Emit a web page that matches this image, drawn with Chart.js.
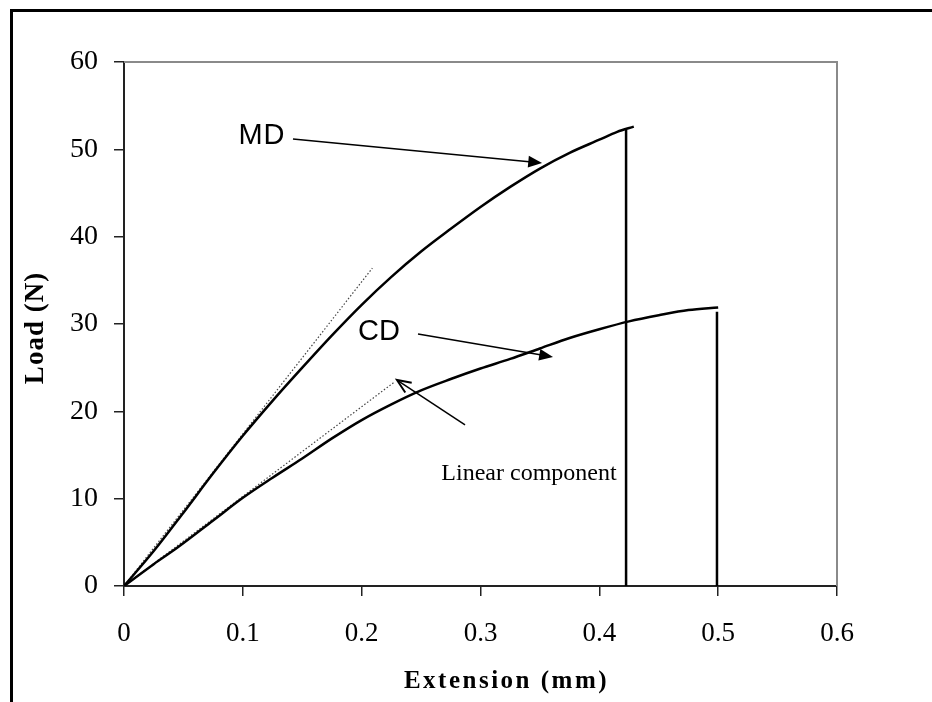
<!DOCTYPE html>
<html>
<head>
<meta charset="utf-8">
<script src="https://cdn.jsdelivr.net/npm/chart.js@4.4.1/dist/chart.umd.min.js"></script>
<style>
    html, body { margin: 0; padding: 0; background: #fff; overflow: hidden; }
    #frame { position: absolute; left: 10px; top: 9px; width: 1000px; height: 800px;
             border-left: 3px solid #000; border-top: 3px solid #000; }
    #wrap { position: absolute; left: 0; top: 0; width: 932px; height: 702px; }
</style>
</head>
<body>
<div id="frame"></div>
<div id="wrap"><canvas id="myChart" width="932" height="702"></canvas></div>
<script>
// curvas carga - extension (MD y CD)
const mdExt  = [0, 0.025, 0.05, 0.075, 0.1, 0.125, 0.15, 0.175, 0.2, 0.225, 0.25, 0.275, 0.3, 0.325, 0.35, 0.375, 0.4, 0.415, 0.429];
const mdLoad = [0, 4.0, 8.4, 12.9, 17.2, 21.2, 25.0, 28.7, 32.2, 35.4, 38.3, 40.9, 43.4, 45.7, 47.8, 49.6, 51.1, 52.0, 52.6];

const cdExt  = [0, 0.025, 0.045, 0.075, 0.1, 0.125, 0.15, 0.175, 0.2, 0.225, 0.25, 0.275, 0.3, 0.325, 0.35, 0.375, 0.4, 0.425, 0.45, 0.475, 0.5];
const cdLoad = [0, 2.5, 4.4, 7.5, 10.1, 12.4, 14.6, 16.9, 19.0, 20.8, 22.4, 23.7, 24.9, 26.0, 27.2, 28.4, 29.4, 30.3, 31.0, 31.6, 31.9];

// caida final (rotura)
const mdDropExt  = [0.4225, 0.4225];
const mdDropLoad = [52.2, 0];
const cdDropExt  = [0.499, 0.499];
const cdDropLoad = [31.4, 0];

// componente lineal (punteado)
const mdLinExt  = [0, 0.209];
const mdLinLoad = [0, 36.4];
const cdLinExt  = [0, 0.228];
const cdLinLoad = [0, 23.4];

const xTickLabels = ['0', '0.1', '0.2', '0.3', '0.4', '0.5', '0.6'];
const yTickLabels = ['0', '10', '20', '30', '40', '50', '60'];

const toPoints = (xs, ys) => xs.map((x, i) => ({ x: x, y: ys[i] }));

// anotaciones en coordenadas de datos
const notes = {
    texts: [
        { text: 'MD', x: 0.1161, y: 51.5, font: '29px "Liberation Sans"', spacing: '1px' },
        { text: 'CD', x: 0.2146, y: 29.1, font: '29px "Liberation Sans"', spacing: '0px' },
        { text: 'Linear component', x: 0.3408, y: 12.14, font: '24px "Liberation Serif"', spacing: '0px', baseline: 'alphabetic' }
    ],
    arrows: [
        { x1: 0.1422, y1: 51.18, x2: 0.3518, y2: 48.44, filled: true },
        { x1: 0.2474, y1: 28.86, x2: 0.3610, y2: 26.22, filled: true },
        { x1: 0.2870, y1: 18.44, x2: 0.2297, y2: 23.59, filled: false }
    ]
};

const annotate = {
    id: 'annotate',
    afterDatasetsDraw(chart) {
        const ctx = chart.ctx;
        const xs = chart.scales.x, ys = chart.scales.y;
        const a = chart.chartArea;
        ctx.save();
        // borde gris superior y derecho del area
        ctx.strokeStyle = '#8a8a8a';
        ctx.lineWidth = 2;
        ctx.beginPath();
        ctx.moveTo(a.left, a.top);
        ctx.lineTo(a.right, a.top);
        ctx.lineTo(a.right, a.bottom);
        ctx.stroke();

        ctx.fillStyle = '#000';
        notes.texts.forEach(t => {
            ctx.font = t.font;
            ctx.letterSpacing = t.spacing;
            ctx.textAlign = 'center';
            ctx.textBaseline = t.baseline || 'middle';
            ctx.fillText(t.text, xs.getPixelForValue(t.x), ys.getPixelForValue(t.y));
        });
        ctx.letterSpacing = '0px';

        ctx.strokeStyle = '#000';
        notes.arrows.forEach(ar => {
            const x1 = xs.getPixelForValue(ar.x1), y1 = ys.getPixelForValue(ar.y1);
            const x2 = xs.getPixelForValue(ar.x2), y2 = ys.getPixelForValue(ar.y2);
            const ang = Math.atan2(y2 - y1, x2 - x1);
            const len = 15, half = 0.4;
            ctx.lineWidth = 1.5;
            ctx.beginPath();
            ctx.moveTo(x1, y1);
            ctx.lineTo(x2 - Math.cos(ang) * (ar.filled ? len - 2 : 1), y2 - Math.sin(ang) * (ar.filled ? len - 2 : 1));
            ctx.stroke();
            const ax = x2 - Math.cos(ang - half) * len, ay = y2 - Math.sin(ang - half) * len;
            const bx = x2 - Math.cos(ang + half) * len, by = y2 - Math.sin(ang + half) * len;
            ctx.beginPath();
            if (ar.filled) {
                ctx.moveTo(x2, y2);
                ctx.lineTo(ax, ay);
                ctx.lineTo(bx, by);
                ctx.closePath();
                ctx.fill();
            } else {
                ctx.lineWidth = 2;
                ctx.moveTo(ax, ay);
                ctx.lineTo(x2, y2);
                ctx.lineTo(bx, by);
                ctx.stroke();
            }
        });

        // titulos de ejes
        ctx.font = 'bold 27px "Liberation Serif"';
        ctx.letterSpacing = '1px';
        ctx.textAlign = 'center';
        ctx.textBaseline = 'middle';
        ctx.save();
        ctx.translate(36, (a.top + a.bottom) / 2 + 4);
        ctx.rotate(-Math.PI / 2);
        ctx.fillText('Load (N)', 0, 0);
        ctx.restore();
        ctx.font = 'bold 25px "Liberation Serif"';
        ctx.letterSpacing = '2.5px';
        ctx.textBaseline = 'alphabetic';
        ctx.fillText('Extension (mm)', (a.left + a.right) / 2 + 26, 688);
        ctx.restore();
    }
};

const solid = { borderColor: '#000', borderWidth: 2.5, pointRadius: 0, showLine: true, fill: false, cubicInterpolationMode: 'monotone' };
const drop = { borderColor: '#000', borderWidth: 2.5, pointRadius: 0, showLine: true, fill: false };
const dotted = { borderColor: '#444', borderWidth: 1.2, borderDash: [1.5, 2], pointRadius: 0, showLine: true, fill: false };

const config = {
    type: 'scatter',
    data: {
        datasets: [
            Object.assign({ label: 'MD', data: toPoints(mdExt, mdLoad) }, solid),
            Object.assign({ label: 'CD', data: toPoints(cdExt, cdLoad) }, solid),
            Object.assign({ label: 'MD rotura', data: toPoints(mdDropExt, mdDropLoad) }, drop),
            Object.assign({ label: 'CD rotura', data: toPoints(cdDropExt, cdDropLoad) }, drop),
            Object.assign({ label: 'MD linear', data: toPoints(mdLinExt, mdLinLoad) }, dotted),
            Object.assign({ label: 'CD linear', data: toPoints(cdLinExt, cdLinLoad) }, dotted)
        ]
    },
    options: {
        responsive: false,
        animation: false,
        layout: { padding: { top: 62, right: 95, left: 0, bottom: 0 } },
        plugins: { legend: { display: false }, tooltip: { enabled: false } },
        scales: {
            x: {
                type: 'linear', min: 0, max: 0.6,
                afterFit: s => { s.height = 116; },
                ticks: {
                    stepSize: 0.1, padding: 22, color: '#000',
                    font: { family: '"Liberation Serif"', size: 27 },
                    callback: (v, i) => xTickLabels[i]
                },
                grid: { drawOnChartArea: false, drawTicks: true, tickLength: 10, color: '#222', lineWidth: 1.5 },
                border: { display: true, color: '#222', width: 2 }
            },
            y: {
                type: 'linear', min: 0, max: 60,
                afterFit: s => { s.width = 124; },
                ticks: {
                    stepSize: 10, padding: 16, color: '#000',
                    font: { family: '"Liberation Serif"', size: 28 },
                    callback: (v, i) => yTickLabels[i]
                },
                grid: { drawOnChartArea: false, drawTicks: true, tickLength: 10, color: '#222', lineWidth: 1.5 },
                border: { display: true, color: '#222', width: 2 }
            }
        }
    },
    plugins: [annotate]
};

const myChart = new Chart(document.getElementById('myChart'), config);
</script>
</body>
</html>
